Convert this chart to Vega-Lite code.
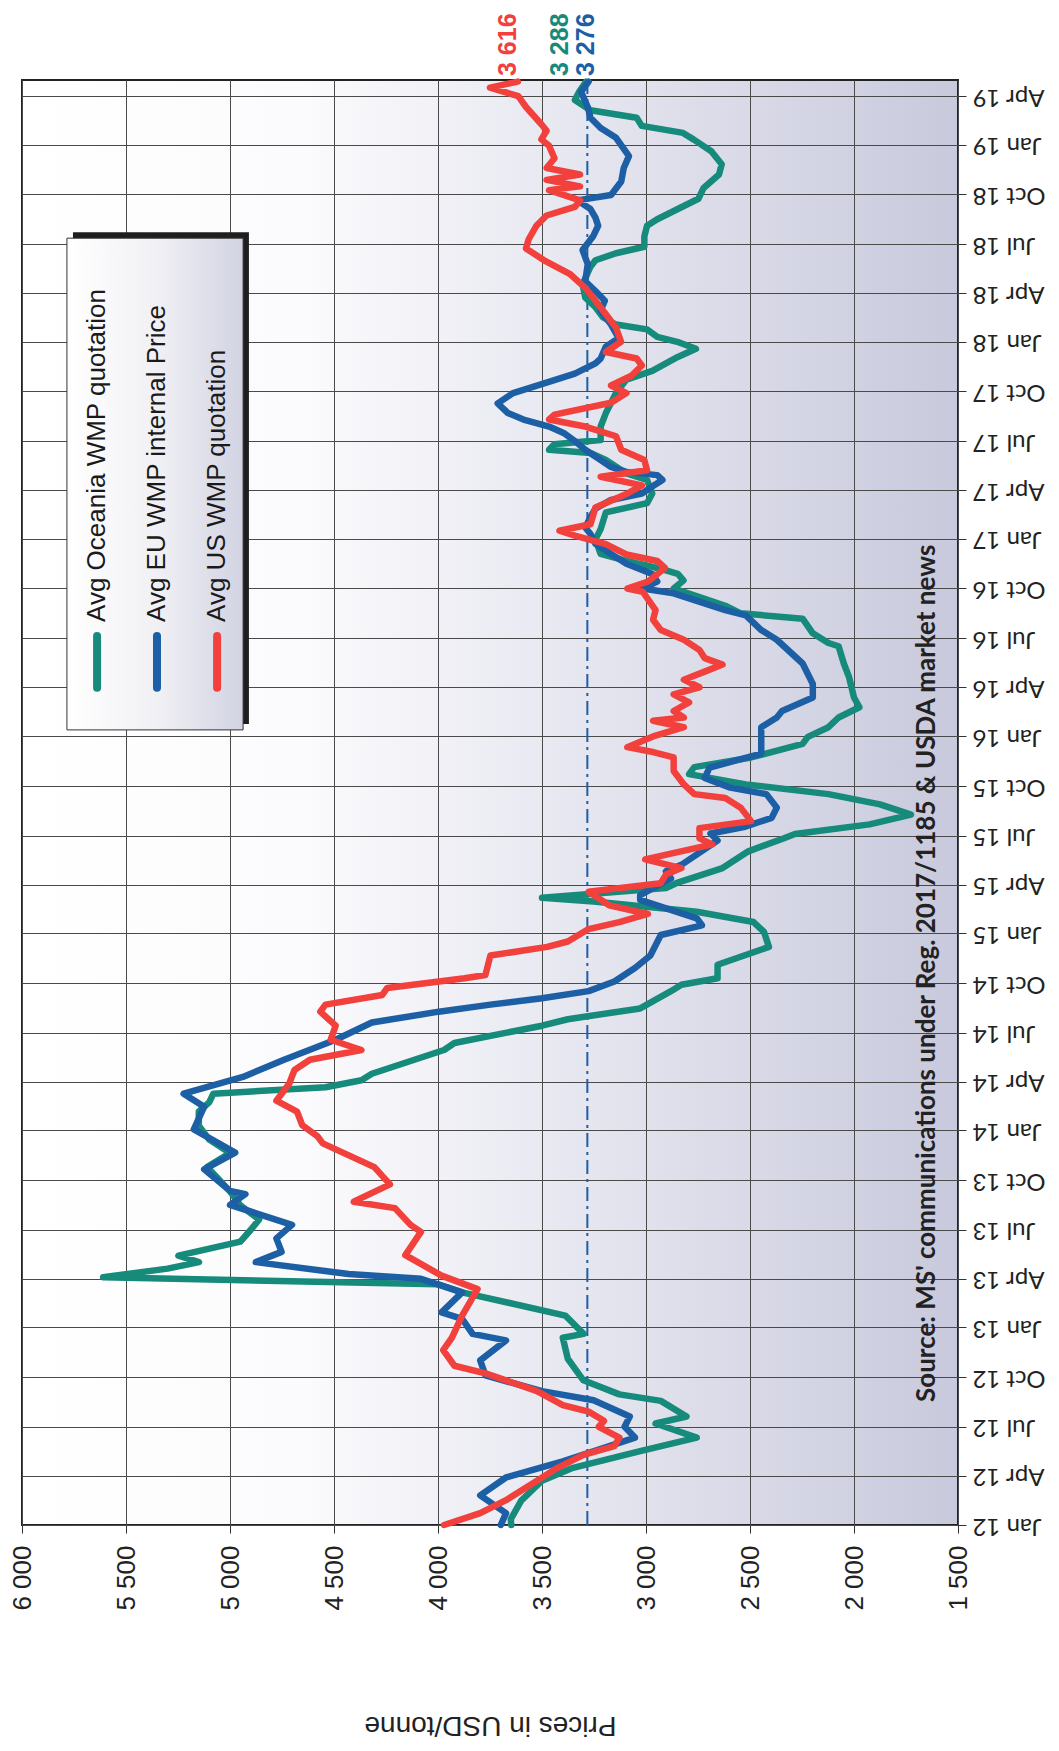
{
  "$schema": "https://vega.github.io/schema/vega-lite/v6.json",
  "width": 936,
  "height": 1445,
  "autosize": {"type": "none"},
  "padding": {"left": 22, "top": 80, "right": 101, "bottom": 226},
  "background": "white",
  "data": {"values": [{}]},
  "config": {
    "view": {
      "stroke": "#222",
      "strokeWidth": 2,
      "fill": {"gradient": "linear", "x1": 0, "y1": 0, "x2": 1, "y2": 0,
        "stops": [{"offset": 0, "color": "#ffffff"}, {"offset": 0.3, "color": "#fbfbfd"}, {"offset": 0.6, "color": "#e6e6f0"}, {"offset": 1, "color": "#c8c9dc"}]}
    }
  },
  "layer": [
    {
      "mark": {"type": "rule", "color": "#1c5fa5", "strokeWidth": 2, "strokeDash": [14, 5, 3, 5]},
      "encoding": {"x": {"datum": 3282, "type": "quantitative"}}
    },
    {
      "data": {"values": [
        {"series":"Oceania","date":"2012-01-01","price":3648},{"series":"Oceania","date":"2012-01-12","price":3650},{"series":"Oceania","date":"2012-02-15","price":3600},{"series":"Oceania","date":"2012-03-23","price":3500},{"series":"Oceania","date":"2012-04-16","price":3351},{"series":"Oceania","date":"2012-05-17","price":3028},{"series":"Oceania","date":"2012-06-11","price":2756},{"series":"Oceania","date":"2012-07-07","price":2954},{"series":"Oceania","date":"2012-07-20","price":2805},{"series":"Oceania","date":"2012-08-18","price":2929},{"series":"Oceania","date":"2012-08-30","price":3128},{"series":"Oceania","date":"2012-09-25","price":3301},{"series":"Oceania","date":"2012-11-04","price":3376},{"series":"Oceania","date":"2012-12-13","price":3400},{"series":"Oceania","date":"2012-12-20","price":3300},{"series":"Oceania","date":"2013-01-23","price":3388},{"series":"Oceania","date":"2013-03-07","price":3884},{"series":"Oceania","date":"2013-03-22","price":4000},{"series":"Oceania","date":"2013-04-04","price":5610},{"series":"Oceania","date":"2013-04-20","price":5300},{"series":"Oceania","date":"2013-05-02","price":5149},{"series":"Oceania","date":"2013-05-14","price":5248},{"series":"Oceania","date":"2013-06-09","price":4950},{"series":"Oceania","date":"2013-07-01","price":4900},{"series":"Oceania","date":"2013-07-20","price":4860},{"series":"Oceania","date":"2013-08-15","price":4950},{"series":"Oceania","date":"2013-09-10","price":5000},{"series":"Oceania","date":"2013-10-05","price":5060},{"series":"Oceania","date":"2013-10-25","price":5110},{"series":"Oceania","date":"2013-11-20","price":5000},{"series":"Oceania","date":"2013-12-15","price":5100},{"series":"Oceania","date":"2014-01-10","price":5150},{"series":"Oceania","date":"2014-02-05","price":5150},{"series":"Oceania","date":"2014-02-22","price":5100},{"series":"Oceania","date":"2014-03-10","price":5080},{"series":"Oceania","date":"2014-03-22","price":4541},{"series":"Oceania","date":"2014-04-04","price":4368},{"series":"Oceania","date":"2014-04-16","price":4318},{"series":"Oceania","date":"2014-05-30","price":3971},{"series":"Oceania","date":"2014-06-12","price":3921},{"series":"Oceania","date":"2014-07-14","price":3500},{"series":"Oceania","date":"2014-07-26","price":3376},{"series":"Oceania","date":"2014-08-15","price":3028},{"series":"Oceania","date":"2014-09-16","price":2880},{"series":"Oceania","date":"2014-09-28","price":2830},{"series":"Oceania","date":"2014-10-10","price":2656},{"series":"Oceania","date":"2014-11-04","price":2656},{"series":"Oceania","date":"2014-12-07","price":2409},{"series":"Oceania","date":"2015-01-04","price":2433},{"series":"Oceania","date":"2015-01-22","price":2483},{"series":"Oceania","date":"2015-02-10","price":2756},{"series":"Oceania","date":"2015-03-01","price":3252},{"series":"Oceania","date":"2015-03-08","price":3500},{"series":"Oceania","date":"2015-03-26","price":2904},{"series":"Oceania","date":"2015-04-04","price":2855},{"series":"Oceania","date":"2015-05-02","price":2632},{"series":"Oceania","date":"2015-06-02","price":2508},{"series":"Oceania","date":"2015-06-25","price":2346},{"series":"Oceania","date":"2015-07-04","price":2284},{"series":"Oceania","date":"2015-07-22","price":1925},{"series":"Oceania","date":"2015-08-09","price":1726},{"series":"Oceania","date":"2015-08-28","price":1875},{"series":"Oceania","date":"2015-09-16","price":2123},{"series":"Oceania","date":"2015-10-04","price":2520},{"series":"Oceania","date":"2015-10-23","price":2793},{"series":"Oceania","date":"2015-11-05","price":2768},{"series":"Oceania","date":"2015-11-23","price":2495},{"series":"Oceania","date":"2015-12-18","price":2247},{"series":"Oceania","date":"2015-12-31","price":2222},{"series":"Oceania","date":"2016-01-18","price":2123},{"series":"Oceania","date":"2016-02-05","price":2074},{"series":"Oceania","date":"2016-02-24","price":1974},{"series":"Oceania","date":"2016-03-13","price":2000},{"series":"Oceania","date":"2016-04-20","price":2024},{"series":"Oceania","date":"2016-05-15","price":2049},{"series":"Oceania","date":"2016-06-16","price":2074},{"series":"Oceania","date":"2016-06-22","price":2123},{"series":"Oceania","date":"2016-07-10","price":2198},{"series":"Oceania","date":"2016-08-06","price":2247},{"series":"Oceania","date":"2016-08-16","price":2545},{"series":"Oceania","date":"2016-08-30","price":2619},{"series":"Oceania","date":"2016-09-15","price":2743},{"series":"Oceania","date":"2016-10-01","price":2867},{"series":"Oceania","date":"2016-10-16","price":2820},{"series":"Oceania","date":"2016-10-28","price":2847},{"series":"Oceania","date":"2016-11-08","price":2946},{"series":"Oceania","date":"2016-11-21","price":3094},{"series":"Oceania","date":"2016-12-04","price":3218},{"series":"Oceania","date":"2016-12-31","price":3243},{"series":"Oceania","date":"2017-01-19","price":3218},{"series":"Oceania","date":"2017-02-19","price":3193},{"series":"Oceania","date":"2017-03-08","price":2995},{"series":"Oceania","date":"2017-03-26","price":2970},{"series":"Oceania","date":"2017-04-20","price":2995},{"series":"Oceania","date":"2017-05-02","price":3094},{"series":"Oceania","date":"2017-05-27","price":3193},{"series":"Oceania","date":"2017-06-09","price":3267},{"series":"Oceania","date":"2017-06-15","price":3466},{"series":"Oceania","date":"2017-06-25","price":3441},{"series":"Oceania","date":"2017-07-03","price":3218},{"series":"Oceania","date":"2017-07-28","price":3218},{"series":"Oceania","date":"2017-08-22","price":3193},{"series":"Oceania","date":"2017-09-28","price":3144},{"series":"Oceania","date":"2017-10-23","price":3094},{"series":"Oceania","date":"2017-11-08","price":2970},{"series":"Oceania","date":"2017-12-04","price":2847},{"series":"Oceania","date":"2017-12-19","price":2760},{"series":"Oceania","date":"2018-01-01","price":2850},{"series":"Oceania","date":"2018-01-10","price":2946},{"series":"Oceania","date":"2018-01-24","price":2995},{"series":"Oceania","date":"2018-02-02","price":3144},{"series":"Oceania","date":"2018-02-15","price":3206},{"series":"Oceania","date":"2018-03-06","price":3243},{"series":"Oceania","date":"2018-03-24","price":3292},{"series":"Oceania","date":"2018-04-18","price":3305},{"series":"Oceania","date":"2018-05-20","price":3267},{"series":"Oceania","date":"2018-06-01","price":3243},{"series":"Oceania","date":"2018-06-14","price":3144},{"series":"Oceania","date":"2018-06-26","price":3008},{"series":"Oceania","date":"2018-07-15","price":3008},{"series":"Oceania","date":"2018-08-04","price":2995},{"series":"Oceania","date":"2018-08-16","price":2946},{"series":"Oceania","date":"2018-09-04","price":2847},{"series":"Oceania","date":"2018-09-23","price":2748},{"series":"Oceania","date":"2018-10-13","price":2723},{"series":"Oceania","date":"2018-11-07","price":2649},{"series":"Oceania","date":"2018-11-26","price":2636},{"series":"Oceania","date":"2018-12-20","price":2686},{"series":"Oceania","date":"2019-01-11","price":2772},{"series":"Oceania","date":"2019-01-23","price":2822},{"series":"Oceania","date":"2019-02-05","price":3020},{"series":"Oceania","date":"2019-02-20","price":3045},{"series":"Oceania","date":"2019-03-06","price":3267},{"series":"Oceania","date":"2019-03-25","price":3342},{"series":"Oceania","date":"2019-04-10","price":3320},{"series":"Oceania","date":"2019-04-28","price":3288},
        {"series":"EU","date":"2012-01-01","price":3698},{"series":"EU","date":"2012-01-23","price":3673},{"series":"EU","date":"2012-02-25","price":3797},{"series":"EU","date":"2012-03-29","price":3673},{"series":"EU","date":"2012-04-28","price":3400},{"series":"EU","date":"2012-05-23","price":3202},{"series":"EU","date":"2012-06-11","price":3053},{"series":"EU","date":"2012-07-01","price":3103},{"series":"EU","date":"2012-07-20","price":3078},{"series":"EU","date":"2012-08-19","price":3252},{"series":"EU","date":"2012-09-05","price":3500},{"series":"EU","date":"2012-10-04","price":3772},{"series":"EU","date":"2012-11-01","price":3797},{"series":"EU","date":"2012-12-08","price":3673},{"series":"EU","date":"2012-12-20","price":3834},{"series":"EU","date":"2013-01-17","price":3884},{"series":"EU","date":"2013-01-29","price":3983},{"series":"EU","date":"2013-03-07","price":3884},{"series":"EU","date":"2013-04-01","price":4082},{"series":"EU","date":"2013-04-10","price":4430},{"series":"EU","date":"2013-05-02","price":4876},{"series":"EU","date":"2013-05-21","price":4752},{"series":"EU","date":"2013-06-15","price":4777},{"series":"EU","date":"2013-07-10","price":4702},{"series":"EU","date":"2013-08-16","price":5000},{"series":"EU","date":"2013-09-05","price":4926},{"series":"EU","date":"2013-09-11","price":5000},{"series":"EU","date":"2013-10-21","price":5124},{"series":"EU","date":"2013-11-21","price":4975},{"series":"EU","date":"2014-01-03","price":5174},{"series":"EU","date":"2014-02-14","price":5124},{"series":"EU","date":"2014-03-10","price":5223},{"series":"EU","date":"2014-03-22","price":5112},{"series":"EU","date":"2014-04-10","price":4938},{"series":"EU","date":"2014-05-12","price":4740},{"series":"EU","date":"2014-06-18","price":4492},{"series":"EU","date":"2014-07-20","price":4318},{"series":"EU","date":"2014-08-09","price":3996},{"series":"EU","date":"2014-08-22","price":3748},{"series":"EU","date":"2014-09-03","price":3500},{"series":"EU","date":"2014-09-16","price":3276},{"series":"EU","date":"2014-10-04","price":3152},{"series":"EU","date":"2014-10-29","price":3053},{"series":"EU","date":"2014-11-21","price":2979},{"series":"EU","date":"2014-12-29","price":2929},{"series":"EU","date":"2015-01-16","price":2731},{"series":"EU","date":"2015-01-29","price":2756},{"series":"EU","date":"2015-03-04","price":3028},{"series":"EU","date":"2015-03-13","price":3028},{"series":"EU","date":"2015-04-13","price":2880},{"series":"EU","date":"2015-04-26","price":2904},{"series":"EU","date":"2015-05-08","price":2830},{"series":"EU","date":"2015-06-22","price":2656},{"series":"EU","date":"2015-07-05","price":2690},{"series":"EU","date":"2015-07-17","price":2530},{"series":"EU","date":"2015-08-03","price":2396},{"series":"EU","date":"2015-08-22","price":2371},{"series":"EU","date":"2015-09-16","price":2421},{"series":"EU","date":"2015-09-28","price":2595},{"series":"EU","date":"2015-10-16","price":2718},{"series":"EU","date":"2015-11-04","price":2694},{"series":"EU","date":"2015-11-17","price":2570},{"series":"EU","date":"2015-11-30","price":2446},{"series":"EU","date":"2015-12-31","price":2446},{"series":"EU","date":"2016-01-18","price":2446},{"series":"EU","date":"2016-02-05","price":2371},{"series":"EU","date":"2016-02-17","price":2346},{"series":"EU","date":"2016-03-13","price":2198},{"series":"EU","date":"2016-04-07","price":2198},{"series":"EU","date":"2016-05-15","price":2247},{"series":"EU","date":"2016-06-28","price":2371},{"series":"EU","date":"2016-07-16","price":2446},{"series":"EU","date":"2016-08-12","price":2520},{"series":"EU","date":"2016-08-22","price":2619},{"series":"EU","date":"2016-09-22","price":2867},{"series":"EU","date":"2016-10-01","price":3016},{"series":"EU","date":"2016-10-14","price":2946},{"series":"EU","date":"2016-10-28","price":2970},{"series":"EU","date":"2016-11-16","price":3094},{"series":"EU","date":"2016-12-04","price":3168},{"series":"EU","date":"2016-12-23","price":3243},{"series":"EU","date":"2017-01-10","price":3267},{"series":"EU","date":"2017-01-22","price":3292},{"series":"EU","date":"2017-02-10","price":3267},{"series":"EU","date":"2017-02-26","price":3243},{"series":"EU","date":"2017-03-14","price":3168},{"series":"EU","date":"2017-03-26","price":3020},{"series":"EU","date":"2017-04-08","price":2970},{"series":"EU","date":"2017-04-20","price":2921},{"series":"EU","date":"2017-04-29","price":2946},{"series":"EU","date":"2017-05-05","price":3094},{"series":"EU","date":"2017-05-14","price":3168},{"series":"EU","date":"2017-05-27","price":3218},{"series":"EU","date":"2017-06-15","price":3292},{"series":"EU","date":"2017-07-01","price":3342},{"series":"EU","date":"2017-07-15","price":3391},{"series":"EU","date":"2017-07-28","price":3466},{"series":"EU","date":"2017-08-10","price":3589},{"series":"EU","date":"2017-08-22","price":3664},{"series":"EU","date":"2017-09-09","price":3713},{"series":"EU","date":"2017-09-28","price":3639},{"series":"EU","date":"2017-10-16","price":3490},{"series":"EU","date":"2017-11-03","price":3342},{"series":"EU","date":"2017-11-22","price":3243},{"series":"EU","date":"2017-12-01","price":3218},{"series":"EU","date":"2017-12-23","price":3193},{"series":"EU","date":"2018-01-08","price":3131},{"series":"EU","date":"2018-02-02","price":3168},{"series":"EU","date":"2018-02-28","price":3218},{"series":"EU","date":"2018-03-18","price":3198},{"series":"EU","date":"2018-04-05","price":3243},{"series":"EU","date":"2018-04-23","price":3292},{"series":"EU","date":"2018-05-25","price":3280},{"series":"EU","date":"2018-06-20","price":3305},{"series":"EU","date":"2018-07-15","price":3255},{"series":"EU","date":"2018-08-04","price":3230},{"series":"EU","date":"2018-08-19","price":3243},{"series":"EU","date":"2018-09-04","price":3267},{"series":"EU","date":"2018-09-20","price":3330},{"series":"EU","date":"2018-09-30","price":3168},{"series":"EU","date":"2018-10-25","price":3119},{"series":"EU","date":"2018-11-19","price":3107},{"series":"EU","date":"2018-12-11","price":3082},{"series":"EU","date":"2019-01-14","price":3144},{"series":"EU","date":"2019-02-01","price":3218},{"series":"EU","date":"2019-02-20","price":3267},{"series":"EU","date":"2019-03-12","price":3280},{"series":"EU","date":"2019-04-09","price":3312},{"series":"EU","date":"2019-04-28","price":3276},
        {"series":"US","date":"2012-01-01","price":3971},{"series":"US","date":"2012-01-23","price":3797},{"series":"US","date":"2012-02-16","price":3673},{"series":"US","date":"2012-03-23","price":3524},{"series":"US","date":"2012-04-16","price":3425},{"series":"US","date":"2012-05-10","price":3301},{"series":"US","date":"2012-05-26","price":3152},{"series":"US","date":"2012-06-11","price":3128},{"series":"US","date":"2012-07-01","price":3227},{"series":"US","date":"2012-07-12","price":3202},{"series":"US","date":"2012-07-29","price":3276},{"series":"US","date":"2012-08-10","price":3400},{"series":"US","date":"2012-09-05","price":3524},{"series":"US","date":"2012-10-08","price":3772},{"series":"US","date":"2012-10-22","price":3921},{"series":"US","date":"2012-11-20","price":3975},{"series":"US","date":"2012-12-13","price":3933},{"series":"US","date":"2013-01-23","price":3884},{"series":"US","date":"2013-03-13","price":3810},{"series":"US","date":"2013-04-07","price":3983},{"series":"US","date":"2013-05-15","price":4157},{"series":"US","date":"2013-06-27","price":4082},{"series":"US","date":"2013-07-10","price":4132},{"series":"US","date":"2013-08-10","price":4207},{"series":"US","date":"2013-08-22","price":4405},{"series":"US","date":"2013-09-23","price":4231},{"series":"US","date":"2013-10-25","price":4306},{"series":"US","date":"2013-12-08","price":4554},{"series":"US","date":"2013-12-21","price":4579},{"series":"US","date":"2014-01-11","price":4653},{"series":"US","date":"2014-02-05","price":4678},{"series":"US","date":"2014-02-25","price":4777},{"series":"US","date":"2014-03-29","price":4715},{"series":"US","date":"2014-04-23","price":4690},{"series":"US","date":"2014-05-12","price":4616},{"series":"US","date":"2014-05-30","price":4368},{"series":"US","date":"2014-06-18","price":4516},{"series":"US","date":"2014-07-14","price":4492},{"series":"US","date":"2014-08-09","price":4566},{"series":"US","date":"2014-08-22","price":4541},{"series":"US","date":"2014-09-09","price":4268},{"series":"US","date":"2014-09-22","price":4244},{"series":"US","date":"2014-10-10","price":3872},{"series":"US","date":"2014-10-16","price":3772},{"series":"US","date":"2014-11-21","price":3748},{"series":"US","date":"2014-12-07","price":3475},{"series":"US","date":"2014-12-17","price":3376},{"series":"US","date":"2015-01-09","price":3276},{"series":"US","date":"2015-01-22","price":3128},{"series":"US","date":"2015-02-06","price":2991},{"series":"US","date":"2015-02-22","price":3177},{"series":"US","date":"2015-03-19","price":3276},{"series":"US","date":"2015-04-04","price":2929},{"series":"US","date":"2015-04-20","price":2904},{"series":"US","date":"2015-05-02","price":2830},{"series":"US","date":"2015-05-18","price":3004},{"series":"US","date":"2015-06-15","price":2681},{"series":"US","date":"2015-06-26","price":2743},{"series":"US","date":"2015-07-15","price":2743},{"series":"US","date":"2015-07-28","price":2495},{"series":"US","date":"2015-08-22","price":2545},{"series":"US","date":"2015-09-09","price":2619},{"series":"US","date":"2015-09-16","price":2768},{"series":"US","date":"2015-10-04","price":2818},{"series":"US","date":"2015-10-29","price":2867},{"series":"US","date":"2015-11-23","price":2867},{"series":"US","date":"2015-12-03","price":2966},{"series":"US","date":"2015-12-12","price":3090},{"series":"US","date":"2016-01-01","price":2966},{"series":"US","date":"2016-01-18","price":2818},{"series":"US","date":"2016-01-30","price":2966},{"series":"US","date":"2016-02-05","price":2818},{"series":"US","date":"2016-02-17","price":2867},{"series":"US","date":"2016-03-04","price":2793},{"series":"US","date":"2016-03-19","price":2867},{"series":"US","date":"2016-04-01","price":2743},{"series":"US","date":"2016-04-15","price":2818},{"series":"US","date":"2016-04-30","price":2718},{"series":"US","date":"2016-05-13","price":2632},{"series":"US","date":"2016-05-25","price":2718},{"series":"US","date":"2016-06-09","price":2743},{"series":"US","date":"2016-06-28","price":2818},{"series":"US","date":"2016-07-16","price":2929},{"series":"US","date":"2016-08-04","price":2966},{"series":"US","date":"2016-08-22","price":2954},{"series":"US","date":"2016-09-25","price":3016},{"series":"US","date":"2016-10-01","price":3090},{"series":"US","date":"2016-10-14","price":2990},{"series":"US","date":"2016-11-08","price":2909},{"series":"US","date":"2016-11-21","price":2946},{"series":"US","date":"2016-12-03","price":3094},{"series":"US","date":"2016-12-22","price":3193},{"series":"US","date":"2017-01-07","price":3342},{"series":"US","date":"2017-01-16","price":3416},{"series":"US","date":"2017-01-28","price":3267},{"series":"US","date":"2017-02-28","price":3243},{"series":"US","date":"2017-03-25","price":3094},{"series":"US","date":"2017-04-10","price":3020},{"series":"US","date":"2017-04-26","price":3218},{"series":"US","date":"2017-05-08","price":2995},{"series":"US","date":"2017-05-27","price":3008},{"series":"US","date":"2017-06-15","price":3119},{"series":"US","date":"2017-07-10","price":3144},{"series":"US","date":"2017-07-28","price":3292},{"series":"US","date":"2017-08-10","price":3466},{"series":"US","date":"2017-08-19","price":3440},{"series":"US","date":"2017-09-10","price":3168},{"series":"US","date":"2017-09-28","price":3094},{"series":"US","date":"2017-10-12","price":3168},{"series":"US","date":"2017-10-30","price":3070},{"series":"US","date":"2017-11-18","price":3020},{"series":"US","date":"2017-12-01","price":3045},{"series":"US","date":"2017-12-13","price":3193},{"series":"US","date":"2018-01-01","price":3120},{"series":"US","date":"2018-01-27","price":3144},{"series":"US","date":"2018-02-21","price":3193},{"series":"US","date":"2018-03-18","price":3243},{"series":"US","date":"2018-04-11","price":3292},{"series":"US","date":"2018-05-07","price":3367},{"series":"US","date":"2018-06-01","price":3490},{"series":"US","date":"2018-06-23","price":3577},{"series":"US","date":"2018-07-10","price":3564},{"series":"US","date":"2018-08-04","price":3527},{"series":"US","date":"2018-08-23","price":3478},{"series":"US","date":"2018-09-08","price":3342},{"series":"US","date":"2018-09-20","price":3317},{"series":"US","date":"2018-10-09","price":3466},{"series":"US","date":"2018-10-16","price":3317},{"series":"US","date":"2018-10-28","price":3478},{"series":"US","date":"2018-11-07","price":3317},{"series":"US","date":"2018-11-19","price":3478},{"series":"US","date":"2018-12-07","price":3440},{"series":"US","date":"2018-12-30","price":3466},{"series":"US","date":"2019-01-11","price":3503},{"series":"US","date":"2019-01-27","price":3478},{"series":"US","date":"2019-02-08","price":3503},{"series":"US","date":"2019-03-12","price":3577},{"series":"US","date":"2019-04-01","price":3614},{"series":"US","date":"2019-04-17","price":3750},{"series":"US","date":"2019-04-28","price":3616}
      ]},
      "mark": {"type": "line", "strokeWidth": 6.5, "strokeJoin": "round", "strokeCap": "round"},
      "encoding": {
        "x": {
          "field": "price", "type": "quantitative",
          "scale": {"domain": [1500, 6000], "reverse": true, "nice": false, "zero": false},
          "axis": {
            "orient": "bottom", "values": [1500, 2000, 2500, 3000, 3500, 4000, 4500, 5000, 5500, 6000],
            "labelExpr": "replace(format(datum.value, ','), ',', ' ')",
            "labelAngle": 270, "labelFont": "Liberation Sans", "labelFontSize": 26, "labelColor": "#222",
            "labelPadding": 12, "tickSize": 8, "tickColor": "#333", "domain": false,
            "grid": true, "gridColor": "#4a4a4a", "gridWidth": 1,
            "title": "Prices in USD/tonne", "titleAngle": 180, "titleBaseline": "bottom",
            "titleFont": "Liberation Sans", "titleFontSize": 28, "titleFontWeight": "normal", "titleColor": "#222", "titlePadding": 100
          }
        },
        "y": {
          "field": "date", "type": "temporal",
          "scale": {"type": "utc", "nice": false, "domain": [{"year": 2012, "month": 1, "date": 1, "utc": true}, {"year": 2019, "month": 5, "date": 1, "utc": true}]},
          "axis": {
            "orient": "right",
            "labelExpr": "utcFormat(datum.value, '%b %y')",
            "values": [
              {"year":2012,"month":1,"date":1,"utc":true},{"year":2012,"month":4,"date":1,"utc":true},{"year":2012,"month":7,"date":1,"utc":true},{"year":2012,"month":10,"date":1,"utc":true},
              {"year":2013,"month":1,"date":1,"utc":true},{"year":2013,"month":4,"date":1,"utc":true},{"year":2013,"month":7,"date":1,"utc":true},{"year":2013,"month":10,"date":1,"utc":true},
              {"year":2014,"month":1,"date":1,"utc":true},{"year":2014,"month":4,"date":1,"utc":true},{"year":2014,"month":7,"date":1,"utc":true},{"year":2014,"month":10,"date":1,"utc":true},
              {"year":2015,"month":1,"date":1,"utc":true},{"year":2015,"month":4,"date":1,"utc":true},{"year":2015,"month":7,"date":1,"utc":true},{"year":2015,"month":10,"date":1,"utc":true},
              {"year":2016,"month":1,"date":1,"utc":true},{"year":2016,"month":4,"date":1,"utc":true},{"year":2016,"month":7,"date":1,"utc":true},{"year":2016,"month":10,"date":1,"utc":true},
              {"year":2017,"month":1,"date":1,"utc":true},{"year":2017,"month":4,"date":1,"utc":true},{"year":2017,"month":7,"date":1,"utc":true},{"year":2017,"month":10,"date":1,"utc":true},
              {"year":2018,"month":1,"date":1,"utc":true},{"year":2018,"month":4,"date":1,"utc":true},{"year":2018,"month":7,"date":1,"utc":true},{"year":2018,"month":10,"date":1,"utc":true},
              {"year":2019,"month":1,"date":1,"utc":true},{"year":2019,"month":4,"date":1,"utc":true}
            ],
            "labelAngle": 180, "labelAlign": "right", "labelBaseline": "middle",
            "labelFont": "Lato", "labelFontSize": 24, "labelColor": "#222", "labelPadding": 6,
            "labelOverlap": false, "tickSize": 8, "tickColor": "#333", "domain": false,
            "grid": true, "gridColor": "#4a4a4a", "gridWidth": 1, "title": null
          }
        },
        "color": {
          "field": "series", "type": "nominal",
          "scale": {"domain": ["Oceania", "EU", "US"], "range": ["#168a7b", "#1c5fa5", "#f2403c"]},
          "legend": null
        },
        "order": {"field": "date", "type": "temporal"}
      }
    },
    {
      "mark": {"type": "rect", "fill": "#1e1e1e"},
      "encoding": {
        "x": {"datum": 5755, "type": "quantitative"}, "x2": {"datum": 4909},
        "y": {"datum": {"year": 2018, "month": 7, "date": 23, "utc": true}, "type": "temporal"},
        "y2": {"datum": {"year": 2016, "month": 1, "date": 24, "utc": true}}
      }
    },
    {
      "mark": {"type": "rect", "stroke": "#333", "strokeWidth": 1,
        "fill": {"gradient": "linear", "x1": 0, "y1": 0, "x2": 1, "y2": 0,
          "stops": [{"offset": 0, "color": "#ffffff"}, {"offset": 0.5, "color": "#f1f1f5"}, {"offset": 1, "color": "#d2d3e2"}]}},
      "encoding": {
        "x": {"datum": 5784, "type": "quantitative"}, "x2": {"datum": 4937},
        "y": {"datum": {"year": 2018, "month": 7, "date": 12, "utc": true}, "type": "temporal"},
        "y2": {"datum": {"year": 2016, "month": 1, "date": 13, "utc": true}}
      }
    },
    {
      "mark": {"type": "rule", "color": "#168a7b", "strokeWidth": 8, "strokeCap": "round"},
      "encoding": {
        "x": {"datum": 5639, "type": "quantitative"},
        "y": {"datum": {"year": 2016, "month": 3, "date": 31, "utc": true}, "type": "temporal"},
        "y2": {"datum": {"year": 2016, "month": 7, "date": 5, "utc": true}}
      }
    },
    {
      "mark": {"type": "rule", "color": "#1c5fa5", "strokeWidth": 8, "strokeCap": "round"},
      "encoding": {
        "x": {"datum": 5351, "type": "quantitative"},
        "y": {"datum": {"year": 2016, "month": 3, "date": 31, "utc": true}, "type": "temporal"},
        "y2": {"datum": {"year": 2016, "month": 7, "date": 5, "utc": true}}
      }
    },
    {
      "mark": {"type": "rule", "color": "#f2403c", "strokeWidth": 8, "strokeCap": "round"},
      "encoding": {
        "x": {"datum": 5062, "type": "quantitative"},
        "y": {"datum": {"year": 2016, "month": 3, "date": 31, "utc": true}, "type": "temporal"},
        "y2": {"datum": {"year": 2016, "month": 7, "date": 5, "utc": true}}
      }
    },
    {
      "mark": {"type": "text", "angle": 270, "align": "left", "baseline": "middle", "font": "Liberation Sans", "fontSize": 26, "color": "#1a1a1a"},
      "encoding": {
        "x": {"datum": 5639, "type": "quantitative"},
        "y": {"datum": {"year": 2016, "month": 7, "date": 31, "utc": true}, "type": "temporal"},
        "text": {"value": "Avg Oceania WMP quotation"}
      }
    },
    {
      "mark": {"type": "text", "angle": 270, "align": "left", "baseline": "middle", "font": "Liberation Sans", "fontSize": 26, "color": "#1a1a1a"},
      "encoding": {
        "x": {"datum": 5351, "type": "quantitative"},
        "y": {"datum": {"year": 2016, "month": 7, "date": 31, "utc": true}, "type": "temporal"},
        "text": {"value": "Avg EU WMP internal Price"}
      }
    },
    {
      "mark": {"type": "text", "angle": 270, "align": "left", "baseline": "middle", "font": "Liberation Sans", "fontSize": 26, "color": "#1a1a1a"},
      "encoding": {
        "x": {"datum": 5062, "type": "quantitative"},
        "y": {"datum": {"year": 2016, "month": 7, "date": 31, "utc": true}, "type": "temporal"},
        "text": {"value": "Avg US WMP quotation"}
      }
    },
    {
      "mark": {"type": "text", "angle": 270, "align": "center", "baseline": "middle", "font": "Lato", "fontWeight": "bold", "fontSize": 26, "color": "#222"},
      "encoding": {
        "x": {"datum": 1650, "type": "quantitative"},
        "y": {"datum": {"year": 2014, "month": 10, "date": 19, "utc": true}, "type": "temporal"},
        "text": {"value": "Source: MS' communications under Reg. 2017/1185 & USDA market news"}
      }
    },
    {
      "mark": {"type": "text", "angle": 270, "align": "left", "baseline": "middle", "font": "Liberation Sans", "fontWeight": "bold", "fontSize": 25, "color": "#f2403c", "dx": 4, "dy": -10},
      "encoding": {
        "x": {"datum": 3616, "type": "quantitative"},
        "y": {"datum": {"year": 2019, "month": 5, "date": 1, "utc": true}, "type": "temporal"},
        "text": {"value": "3 616"}
      }
    },
    {
      "mark": {"type": "text", "angle": 270, "align": "left", "baseline": "middle", "font": "Liberation Sans", "fontWeight": "bold", "fontSize": 25, "color": "#168a7b", "dx": 4, "dy": -26},
      "encoding": {
        "x": {"datum": 3288, "type": "quantitative"},
        "y": {"datum": {"year": 2019, "month": 5, "date": 1, "utc": true}, "type": "temporal"},
        "text": {"value": "3 288"}
      }
    },
    {
      "mark": {"type": "text", "angle": 270, "align": "left", "baseline": "middle", "font": "Liberation Sans", "fontWeight": "bold", "fontSize": 25, "color": "#1c5fa5", "dx": 4, "dy": -3},
      "encoding": {
        "x": {"datum": 3276, "type": "quantitative"},
        "y": {"datum": {"year": 2019, "month": 5, "date": 1, "utc": true}, "type": "temporal"},
        "text": {"value": "3 276"}
      }
    }
  ]
}
